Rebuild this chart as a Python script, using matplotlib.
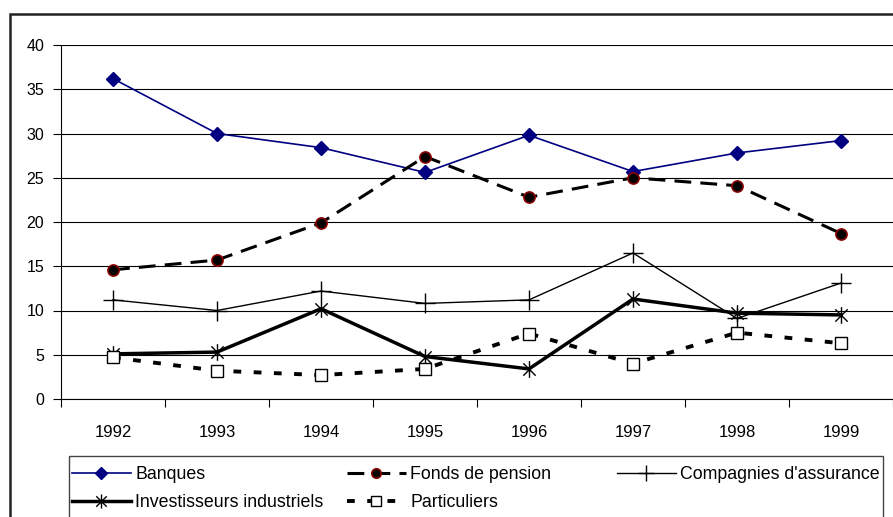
import numpy as np
import matplotlib
matplotlib.use('Agg')
import matplotlib.pyplot as plt
from matplotlib.path import Path
from matplotlib.patches import Rectangle

plt.rcParams['font.family'] = ['Liberation Sans', 'DejaVu Sans']

# données
annees = ['1992', '1993', '1994', '1995', '1996', '1997', '1998', '1999']
banques = [36.2, 30.0, 28.4, 25.6, 29.8, 25.7, 27.8, 29.2]
fonds_pension = [14.6, 15.7, 19.9, 27.4, 22.8, 25.0, 24.1, 18.7]
compagnies = [11.2, 10.0, 12.2, 10.8, 11.2, 16.5, 9.1, 13.1]
investisseurs = [5.1, 5.3, 10.2, 4.8, 3.4, 11.3, 9.7, 9.5]
particuliers = [4.7, 3.2, 2.7, 3.4, 7.4, 4.0, 7.5, 6.3]

W, H = 893, 517

# marqueur astérisque (x + trait vertical)
star = Path([(-1, -1), (1, 1), (-1, 1), (1, -1), (0, -1.35), (0, 1.35)],
            [Path.MOVETO, Path.LINETO, Path.MOVETO, Path.LINETO, Path.MOVETO, Path.LINETO])

fig = plt.figure(figsize=(W / 100, H / 100), dpi=100)
ax = fig.add_axes([61 / W, 1 - 399 / H, (W - 61) / W, (399 - 45) / H])

x = np.arange(len(annees))

l_banq, = ax.plot(x, banques, color='#000080', lw=1.2, marker='D', ms=7,
                  mfc='#000080', mec='#000080', label='Banques')
l_fonds, = ax.plot(x, fonds_pension, color='black', lw=2.2, ls=(0, (5.5, 3)),
                   marker='o', ms=8, mfc='black', mec='#8b0000', mew=1.2,
                   label='Fonds de pension')
l_comp, = ax.plot(x, compagnies, color='black', lw=1, marker='+', ms=14,
                  mew=1, label="Compagnies d'assurance")
l_inv, = ax.plot(x, investisseurs, color='black', lw=2.5, marker=star, ms=12,
                 mew=1, mfc='none', mec='black', label='Investisseurs industriels')
l_part, = ax.plot(x, particuliers, color='black', lw=2.8, ls=(0, (2, 3.2)),
                  marker='s', ms=8, mfc='white', mec='black', mew=1,
                  label='Particuliers')

ax.set_xlim(-0.5, 7.5)
ax.set_ylim(0, 40)
ax.set_yticks(np.arange(0, 41, 5))
ax.yaxis.grid(True, color='black', lw=0.8)
ax.set_axisbelow(True)

ax.set_xticks(np.arange(-0.5, 8, 1))
ax.set_xticklabels([])
ax.set_xticks(x, minor=True)
ax.set_xticklabels(annees, minor=True)
ax.tick_params(axis='x', which='major', length=6, direction='out', width=0.8)
ax.tick_params(axis='x', which='minor', length=0, pad=19, labelsize=12)
ax.tick_params(axis='y', length=6, width=0.8, pad=6, labelsize=11.5)

for s in ['top', 'right']:
    ax.spines[s].set_visible(False)
ax.spines['left'].set_linewidth(0.8)
ax.spines['bottom'].set_linewidth(0.8)

# cadre extérieur et cadre de la légende
fig.add_artist(Rectangle((10 / W, -0.1), 1.2, 1.1 - 14 / H, transform=fig.transFigure,
                         fill=False, lw=1.8, ec='#222222', clip_on=False))
fig.add_artist(Rectangle((69 / W, -0.1), (883 - 69) / W, 0.1 + 1 - 456 / H,
                         transform=fig.transFigure,
                         fill=False, lw=1, ec='#444444', clip_on=False))

# légende en trois colonnes
cols = [([l_banq, l_inv], 72), ([l_fonds, l_part], 347), ([l_comp], 617)]
for handles, xpos in cols:
    leg = fig.legend(handles=handles, loc='upper left',
                     bbox_to_anchor=(xpos / W, 1 - 466 / H),
                     frameon=False, fontsize=12.8, borderpad=0, borderaxespad=0,
                     handlelength=3.3, handletextpad=0.25, labelspacing=0.62,
                     markerscale=0.85)

fig.savefig('out.png', dpi=100)
